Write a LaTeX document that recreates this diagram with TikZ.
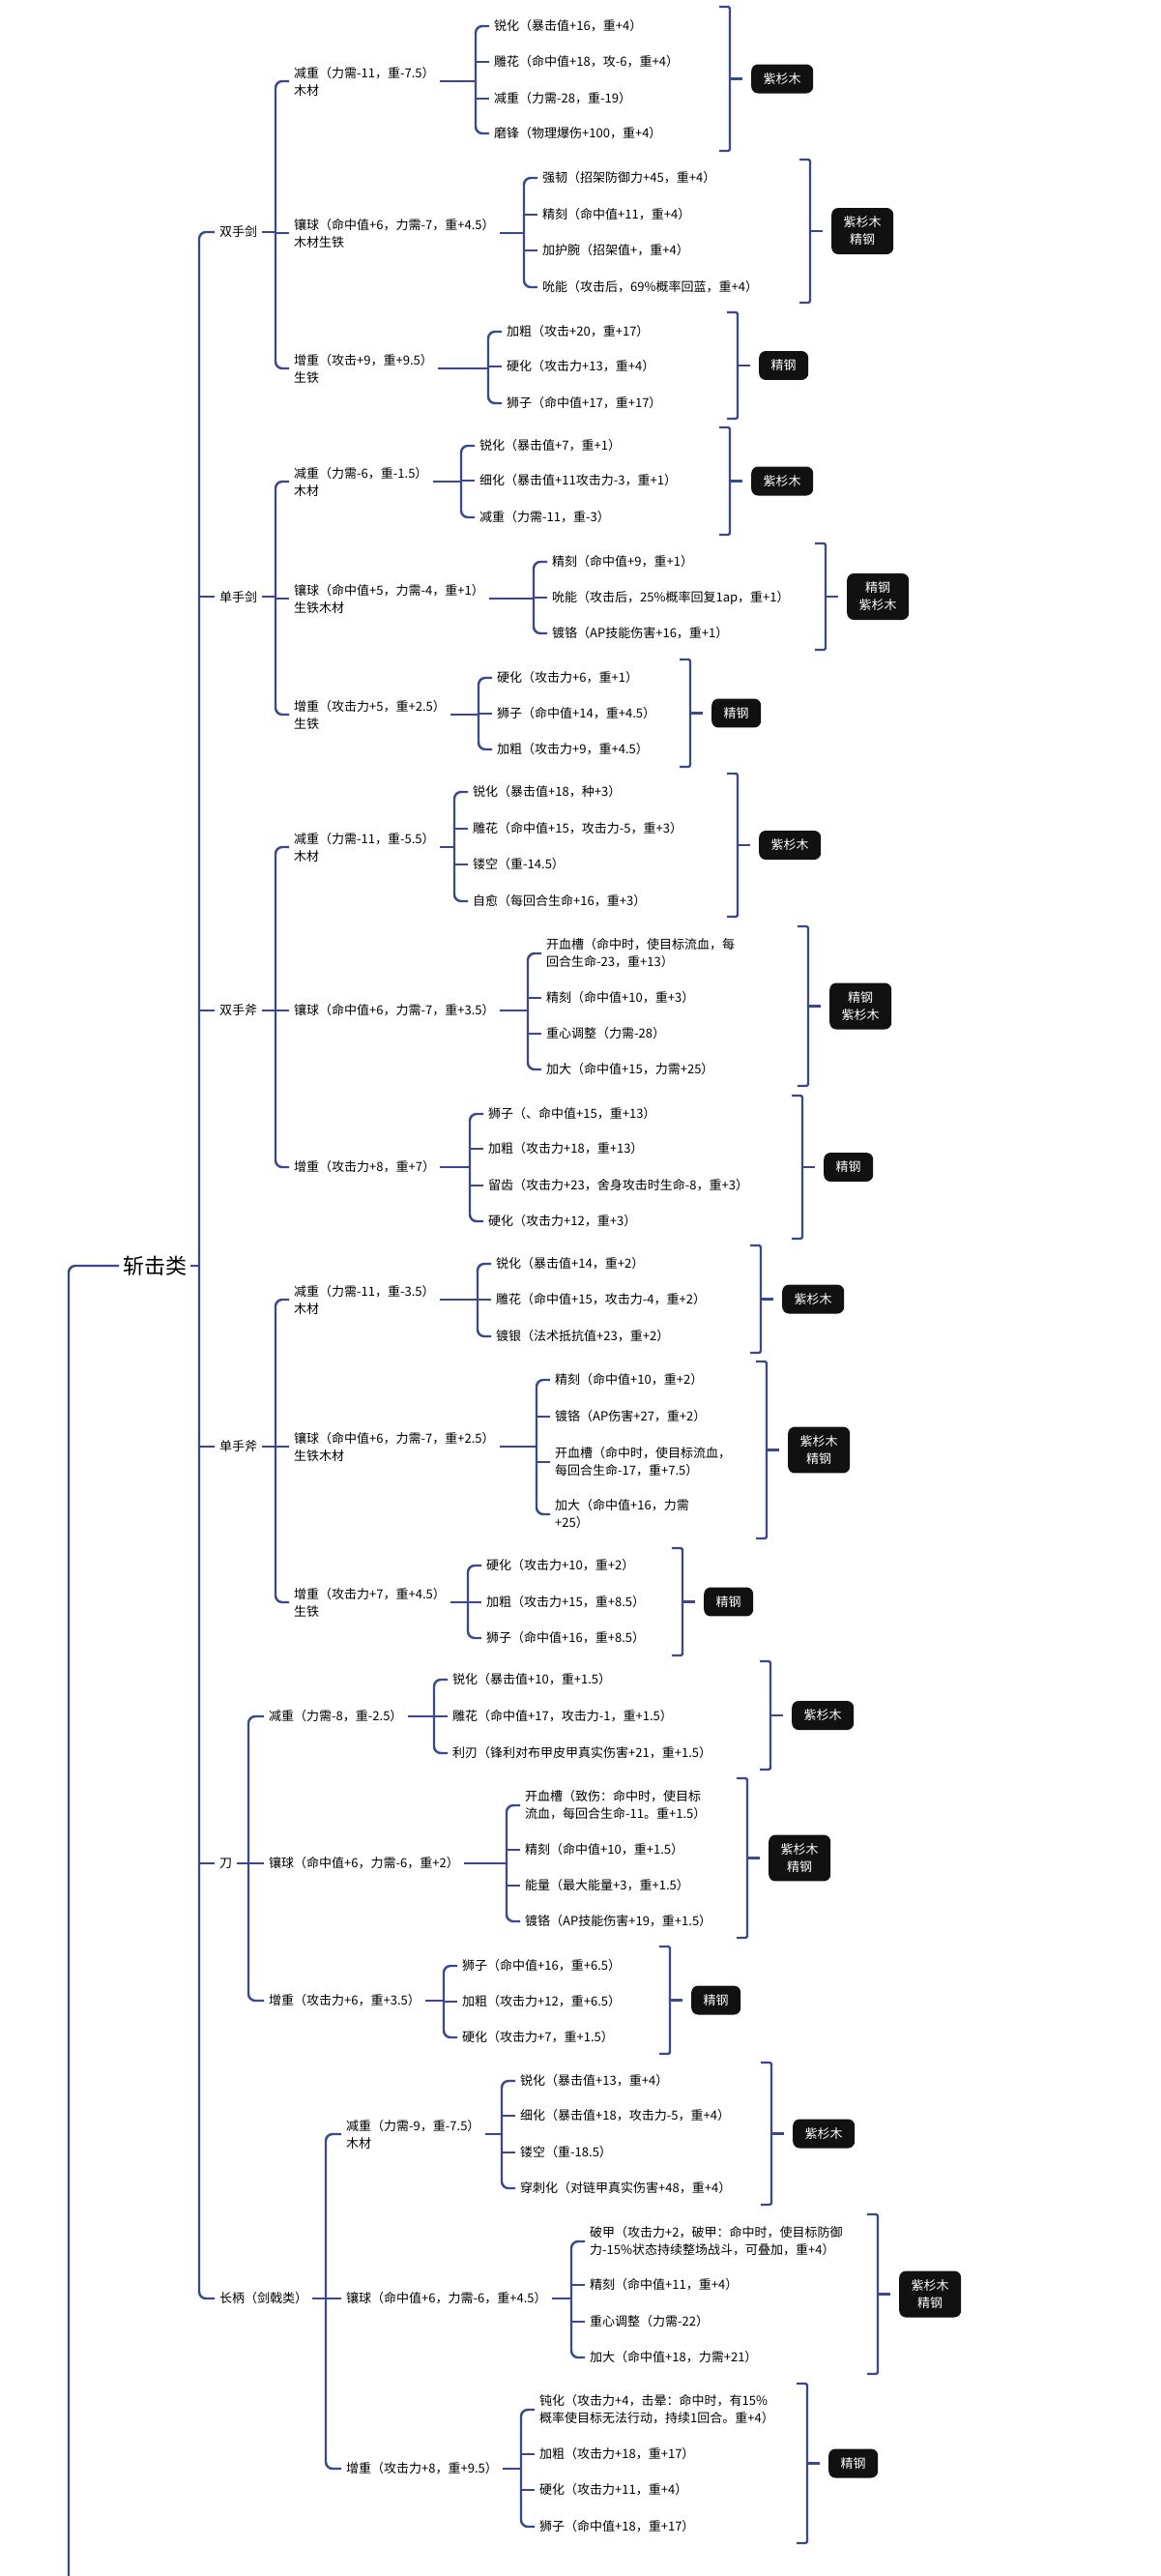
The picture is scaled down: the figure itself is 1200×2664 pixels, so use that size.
\documentclass[tikz,border=0pt]{standalone}
\usepackage{fontspec}
\setmainfont{Noto Sans CJK SC}
\definecolor{linkblue}{RGB}{58,72,145}
\definecolor{sumblack}{RGB}{17,17,17}

\begin{document}
\begin{tikzpicture}[
		x=1pt, y=-1pt,
		link/.style = {draw=linkblue, line width=2.4pt, rounded corners=7pt},
		bracket/.style = {draw=linkblue, line width=2.4pt, rounded corners=1.5pt},
		root/.style = {anchor=west, inner xsep=4pt, font=\fontsize{22}{26}\selectfont},
		topic/.style = {anchor=west, inner xsep=5pt, inner ysep=2pt, align=left, font=\fontsize{13}{18}\selectfont},
		summary/.style = {anchor=west, fill=sumblack, text=white, rounded corners=7pt, inner xsep=12.5pt, inner ysep=9pt, align=center, font=\fontsize{13}{18}\selectfont}
	]
	\useasboundingbox (0,0) rectangle (1200,2664);
	% Root.
	\node[root] (zj) at (123,1309) {斩击类};
	\coordinate (zj-up) at (71,2664);
	\coordinate (zj-b) at (206,1309);
	% Level 1.
	\node[topic] (shj) at (222,240) {双手剑};
	\node[topic] (dsj) at (222,617) {单手剑};
	\node[topic] (shf) at (222,1045) {双手斧};
	\node[topic] (dsf) at (222,1496) {单手斧};
	\node[topic] (dao) at (222,1927) {刀};
	\node[topic] (cb) at (222,2377) {长柄（剑戟类）};
	\coordinate (shj-b) at (285,240);
	\coordinate (dsj-b) at (285,617);
	\coordinate (shf-b) at (285,1045);
	\coordinate (dsf-b) at (285,1496);
	\coordinate (dao-b) at (257,1927);
	\coordinate (cb-b) at (337,2377);
	% Level 2.
	\node[topic] (shj-jz) at (299,84) {减重（力需-11，重-7.5）\\木材};
	\node[topic] (shj-xq) at (299,241) {镶球（命中值+6，力需-7，重+4.5）\\木材生铁};
	\node[topic] (shj-zz) at (299,381) {增重（攻击+9，重+9.5）\\生铁};
	\node[topic] (dsj-jz) at (299,498) {减重（力需-6，重-1.5）\\木材};
	\node[topic] (dsj-xq) at (299,619) {镶球（命中值+5，力需-4，重+1）\\生铁木材};
	\node[topic] (dsj-zz) at (299,739) {增重（攻击力+5，重+2.5）\\生铁};
	\node[topic] (shf-jz) at (299,876) {减重（力需-11，重-5.5）\\木材};
	\node[topic] (shf-xq) at (299,1045) {镶球（命中值+6，力需-7，重+3.5）};
	\node[topic] (shf-zz) at (299,1207) {增重（攻击力+8，重+7）};
	\node[topic] (dsf-jz) at (299,1344) {减重（力需-11，重-3.5）\\木材};
	\node[topic] (dsf-xq) at (299,1496) {镶球（命中值+6，力需-7，重+2.5）\\生铁木材};
	\node[topic] (dsf-zz) at (299,1657) {增重（攻击力+7，重+4.5）\\生铁};
	\node[topic] (dao-jz) at (273,1775) {减重（力需-8，重-2.5）};
	\node[topic] (dao-xq) at (273,1927) {镶球（命中值+6，力需-6，重+2）};
	\node[topic] (dao-zz) at (273,2069) {增重（攻击力+6，重+3.5）};
	\node[topic] (cb-jz) at (353,2207) {减重（力需-9，重-7.5）\\木材};
	\node[topic] (cb-xq) at (353,2377) {镶球（命中值+6，力需-6，重+4.5）};
	\node[topic] (cb-zz) at (353,2553) {增重（攻击力+8，重+9.5）};
	% Level 3: 双手剑.
	\coordinate (shj-jz-b) at (492,84);
	\node[topic] (shj-jz-1) at (506,27) {锐化（暴击值+16，重+4）};
	\node[topic] (shj-jz-2) at (506,64) {雕花（命中值+18，攻-6，重+4）};
	\node[topic] (shj-jz-3) at (506,102) {减重（力需-28，重-19）};
	\node[topic] (shj-jz-4) at (506,138) {磨锋（物理爆伤+100，重+4）};
	\coordinate (shj-xq-b) at (542,241);
	\node[topic] (shj-xq-1) at (556,184) {强韧（招架防御力+45，重+4）};
	\node[topic] (shj-xq-2) at (556,222) {精刻（命中值+11，重+4）};
	\node[topic] (shj-xq-3) at (556,259) {加护腕（招架值+，重+4）};
	\node[topic] (shj-xq-4) at (556,297) {吮能（攻击后，69\%概率回蓝，重+4）};
	\coordinate (shj-zz-b) at (505,381);
	\node[topic] (shj-zz-1) at (519,343) {加粗（攻击+20，重+17）};
	\node[topic] (shj-zz-2) at (519,379) {硬化（攻击力+13，重+4）};
	\node[topic] (shj-zz-3) at (519,417) {狮子（命中值+17，重+17）};
	% Level 3: 单手剑.
	\coordinate (dsj-jz-b) at (477,498);
	\node[topic] (dsj-jz-1) at (491,461) {锐化（暴击值+7，重+1）};
	\node[topic] (dsj-jz-2) at (491,497) {细化（暴击值+11攻击力-3，重+1）};
	\node[topic] (dsj-jz-3) at (491,535) {减重（力需-11，重-3）};
	\coordinate (dsj-xq-b) at (552,619);
	\node[topic] (dsj-xq-1) at (566,581) {精刻（命中值+9，重+1）};
	\node[topic] (dsj-xq-2) at (566,618) {吮能（攻击后，25\%概率回复1ap，重+1）};
	\node[topic] (dsj-xq-3) at (566,655) {镀铬（AP技能伤害+16，重+1）};
	\coordinate (dsj-zz-b) at (495,739);
	\node[topic] (dsj-zz-1) at (509,701) {硬化（攻击力+6，重+1）};
	\node[topic] (dsj-zz-2) at (509,738) {狮子（命中值+14，重+4.5）};
	\node[topic] (dsj-zz-3) at (509,775) {加粗（攻击力+9，重+4.5）};
	% Level 3: 双手斧.
	\coordinate (shf-jz-b) at (470,876);
	\node[topic] (shf-jz-1) at (484,819) {锐化（暴击值+18，种+3）};
	\node[topic] (shf-jz-2) at (484,857) {雕花（命中值+15，攻击力-5，重+3）};
	\node[topic] (shf-jz-3) at (484,894) {镂空（重-14.5）};
	\node[topic] (shf-jz-4) at (484,932) {自愈（每回合生命+16，重+3）};
	\coordinate (shf-xq-b) at (546,1045);
	\node[topic] (shf-xq-1) at (560,986) {开血槽（命中时，使目标流血，每\\回合生命-23，重+13）};
	\node[topic] (shf-xq-2) at (560,1032) {精刻（命中值+10，重+3）};
	\node[topic] (shf-xq-3) at (560,1069) {重心调整（力需-28）};
	\node[topic] (shf-xq-4) at (560,1106) {加大（命中值+15，力需+25）};
	\coordinate (shf-zz-b) at (486,1207);
	\node[topic] (shf-zz-1) at (500,1152) {狮子（、命中值+15，重+13）};
	\node[topic] (shf-zz-2) at (500,1188) {加粗（攻击力+18，重+13）};
	\node[topic] (shf-zz-3) at (500,1226) {留齿（攻击力+23，舍身攻击时生命-8，重+3）};
	\node[topic] (shf-zz-4) at (500,1263) {硬化（攻击力+12，重+3）};
	% Level 3: 单手斧.
	\coordinate (dsf-jz-b) at (494,1344);
	\node[topic] (dsf-jz-1) at (508,1307) {锐化（暴击值+14，重+2）};
	\node[topic] (dsf-jz-2) at (508,1344) {雕花（命中值+15，攻击力-4，重+2）};
	\node[topic] (dsf-jz-3) at (508,1382) {镀银（法术抵抗值+23，重+2）};
	\coordinate (dsf-xq-b) at (555,1496);
	\node[topic] (dsf-xq-1) at (569,1427) {精刻（命中值+10，重+2）};
	\node[topic] (dsf-xq-2) at (569,1465) {镀铬（AP伤害+27，重+2）};
	\node[topic] (dsf-xq-3) at (569,1512) {开血槽（命中时，使目标流血，\\每回合生命-17，重+7.5）};
	\node[topic] (dsf-xq-4) at (569,1566) {加大（命中值+16，力需\\+25）};
	\coordinate (dsf-zz-b) at (484,1657);
	\node[topic] (dsf-zz-1) at (498,1619) {硬化（攻击力+10，重+2）};
	\node[topic] (dsf-zz-2) at (498,1657) {加粗（攻击力+15，重+8.5）};
	\node[topic] (dsf-zz-3) at (498,1694) {狮子（命中值+16，重+8.5）};
	% Level 3: 刀.
	\coordinate (dao-jz-b) at (449,1775);
	\node[topic] (dao-jz-1) at (463,1737) {锐化（暴击值+10，重+1.5）};
	\node[topic] (dao-jz-2) at (463,1775) {雕花（命中值+17，攻击力-1，重+1.5）};
	\node[topic] (dao-jz-3) at (463,1813) {利刃（锋利对布甲皮甲真实伤害+21，重+1.5）};
	\coordinate (dao-xq-b) at (524,1927);
	\node[topic] (dao-xq-1) at (538,1867) {开血槽（致伤：命中时，使目标\\流血，每回合生命-11。重+1.5）};
	\node[topic] (dao-xq-2) at (538,1913) {精刻（命中值+10，重+1.5）};
	\node[topic] (dao-xq-3) at (538,1950) {能量（最大能量+3，重+1.5）};
	\node[topic] (dao-xq-4) at (538,1987) {镀铬（AP技能伤害+19，重+1.5）};
	\coordinate (dao-zz-b) at (459,2069);
	\node[topic] (dao-zz-1) at (473,2033) {狮子（命中值+16，重+6.5）};
	\node[topic] (dao-zz-2) at (473,2070) {加粗（攻击力+12，重+6.5）};
	\node[topic] (dao-zz-3) at (473,2107) {硬化（攻击力+7，重+1.5）};
	% Level 3: 长柄.
	\coordinate (cb-jz-b) at (519,2207);
	\node[topic] (cb-jz-1) at (533,2152) {锐化（暴击值+13，重+4）};
	\node[topic] (cb-jz-2) at (533,2188) {细化（暴击值+18，攻击力-5，重+4）};
	\node[topic] (cb-jz-3) at (533,2226) {镂空（重-18.5）};
	\node[topic] (cb-jz-4) at (533,2263) {穿刺化（对链甲真实伤害+48，重+4）};
	\coordinate (cb-xq-b) at (591,2377);
	\node[topic] (cb-xq-1) at (605,2318) {破甲（攻击力+2，破甲：命中时，使目标防御\\力-15\%状态持续整场战斗，可叠加，重+4）};
	\node[topic] (cb-xq-2) at (605,2363) {精刻（命中值+11，重+4）};
	\node[topic] (cb-xq-3) at (605,2401) {重心调整（力需-22）};
	\node[topic] (cb-xq-4) at (605,2438) {加大（命中值+18，力需+21）};
	\coordinate (cb-zz-b) at (539,2553);
	\node[topic] (cb-zz-1) at (553,2492) {钝化（攻击力+4，击晕：命中时，有15\%\\概率使目标无法行动，持续1回合。重+4）};
	\node[topic] (cb-zz-2) at (553,2538) {加粗（攻击力+18，重+17）};
	\node[topic] (cb-zz-3) at (553,2575) {硬化（攻击力+11，重+4）};
	\node[topic] (cb-zz-4) at (553,2613) {狮子（命中值+18，重+17）};
	% Summaries.
	\coordinate (shj-jz-t) at (755,7);     \coordinate (shj-jz-u) at (755,156);
	\coordinate (shj-xq-t) at (838,165);   \coordinate (shj-xq-u) at (838,313);
	\coordinate (shj-zz-t) at (763,323);   \coordinate (shj-zz-u) at (763,433);
	\coordinate (dsj-jz-t) at (755,442);   \coordinate (dsj-jz-u) at (755,553);
	\coordinate (dsj-xq-t) at (854,562);   \coordinate (dsj-xq-u) at (854,672);
	\coordinate (dsj-zz-t) at (714,682);   \coordinate (dsj-zz-u) at (714,793);
	\coordinate (shf-jz-t) at (763,800);   \coordinate (shf-jz-u) at (763,948);
	\coordinate (shf-xq-t) at (836,958);   \coordinate (shf-xq-u) at (836,1123);
	\coordinate (shf-zz-t) at (830,1133);  \coordinate (shf-zz-u) at (830,1281);
	\coordinate (dsf-jz-t) at (787,1288);  \coordinate (dsf-jz-u) at (787,1399);
	\coordinate (dsf-xq-t) at (793,1408);  \coordinate (dsf-xq-u) at (793,1591);
	\coordinate (dsf-zz-t) at (706,1601);  \coordinate (dsf-zz-u) at (706,1712);
	\coordinate (dao-jz-t) at (797,1718);  \coordinate (dao-jz-u) at (797,1830);
	\coordinate (dao-xq-t) at (773,1839);  \coordinate (dao-xq-u) at (773,2004);
	\coordinate (dao-zz-t) at (693,2013);  \coordinate (dao-zz-u) at (693,2124);
	\coordinate (cb-jz-t) at (798,2133);   \coordinate (cb-jz-u) at (798,2280);
	\coordinate (cb-xq-t) at (908,2290);   \coordinate (cb-xq-u) at (908,2455);
	\coordinate (cb-zz-t) at (835,2465);   \coordinate (cb-zz-u) at (835,2630);
	\node[summary] (shj-jz-s) at (777,81.5) {紫杉木};
	\node[summary] (shj-xq-s) at (860,239) {紫杉木\\精钢};
	\node[summary] (shj-zz-s) at (785,378) {精钢};
	\node[summary] (dsj-jz-s) at (777,497.5) {紫杉木};
	\node[summary] (dsj-xq-s) at (876,617) {精钢\\紫杉木};
	\node[summary] (dsj-zz-s) at (736,737.5) {精钢};
	\node[summary] (shf-jz-s) at (785,874) {紫杉木};
	\node[summary] (shf-xq-s) at (858,1040.5) {精钢\\紫杉木};
	\node[summary] (shf-zz-s) at (852,1207) {精钢};
	\node[summary] (dsf-jz-s) at (809,1343.5) {紫杉木};
	\node[summary] (dsf-xq-s) at (815,1499.5) {紫杉木\\精钢};
	\node[summary] (dsf-zz-s) at (728,1656.5) {精钢};
	\node[summary] (dao-jz-s) at (819,1774) {紫杉木};
	\node[summary] (dao-xq-s) at (795,1921.5) {紫杉木\\精钢};
	\node[summary] (dao-zz-s) at (715,2068.5) {精钢};
	\node[summary] (cb-jz-s) at (820,2206.5) {紫杉木};
	\node[summary] (cb-xq-s) at (930,2372.5) {紫杉木\\精钢};
	\node[summary] (cb-zz-s) at (857,2547.5) {精钢};

	\draw[link] (zj-up) |- (zj);
	\draw[link] (zj) -- (zj-b);
	\draw[link] (shj.west) -- (shj.west -| zj-b) -- (cb.west -| zj-b) -- (cb.west);
	\foreach \w in {dsj,shf,dsf,dao}
		\draw[link] (\w.west -| zj-b) -- (\w.west);
	\foreach \w in {shj,dsj,shf,dsf,dao,cb} {
		\draw[link] (\w) -- (\w-b);
		\draw[link] (\w-jz.west) -- (\w-jz.west -| \w-b) -- (\w-zz.west -| \w-b) -- (\w-zz.west);
		\draw[link] (\w-xq.west -| \w-b) -- (\w-xq.west);
	}
	\foreach \g/\n in {shj-jz/4, shj-xq/4, shj-zz/3, dsj-jz/3, dsj-xq/3, dsj-zz/3,
			shf-jz/4, shf-xq/4, shf-zz/4, dsf-jz/3, dsf-xq/4, dsf-zz/3,
			dao-jz/3, dao-xq/4, dao-zz/3, cb-jz/4, cb-xq/4, cb-zz/4} {
		\pgfmathtruncatemacro\m{\n-1}
		\draw[link] (\g) -- (\g-b);
		\draw[link] (\g-1.west) -- (\g-1.west -| \g-b) -- (\g-\n.west -| \g-b) -- (\g-\n.west);
		\foreach \i in {2,...,\m}
			\draw[link] (\g-\i.west -| \g-b) -- (\g-\i.west);
		\draw[bracket] ([xshift=-11pt]\g-t) -- (\g-t) -- (\g-u) -- ([xshift=-11pt]\g-u);
		\draw[bracket, shorten >=9pt] (\g-t |- \g-s) -- (\g-s);
	}
\end{tikzpicture}
\end{document}
